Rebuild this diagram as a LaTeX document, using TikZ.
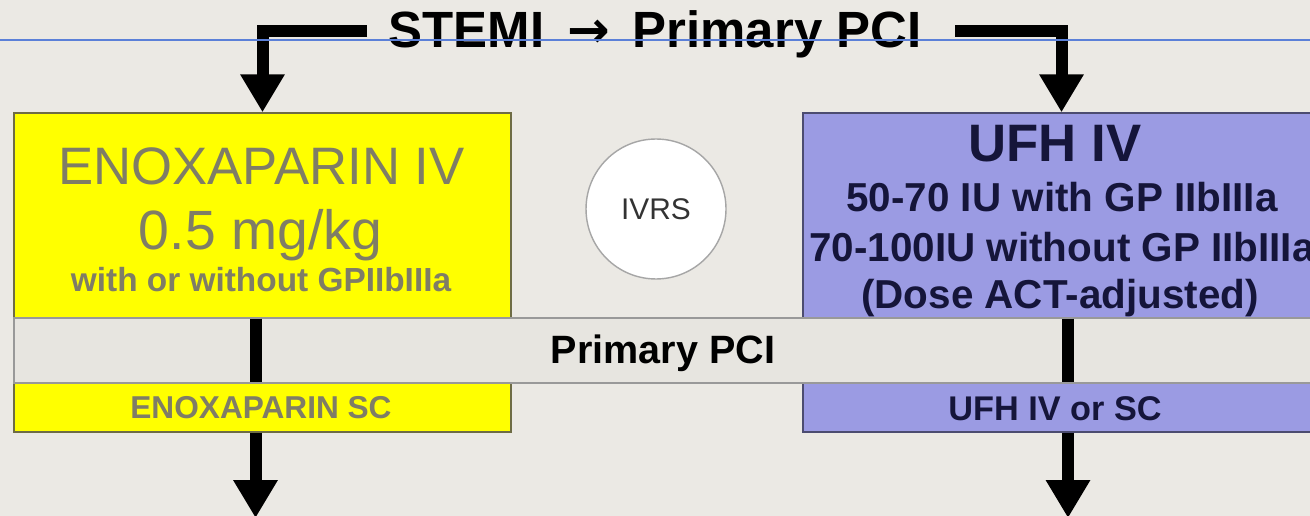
\documentclass[tikz,border=0pt]{standalone}
\usepackage{fontspec}
\setmainfont{Liberation Sans}
\newfontfamily\arrowfont{DejaVu Sans}
\usepackage{tikz}
\usetikzlibrary{arrows.meta}
\usetikzlibrary{positioning}

\definecolor{bgcol}{HTML}{EBE9E4}
\definecolor{bandcol}{HTML}{E7E5E0}
\definecolor{enoxyellow}{HTML}{FFFF00}
\definecolor{enoxborder}{HTML}{6E6C45}
\definecolor{enoxtext}{HTML}{7F7D66}
\definecolor{ufhblue}{HTML}{9B9BE3}
\definecolor{ufhborder}{HTML}{4C4C70}
\definecolor{ufhtext}{HTML}{15153A}
\definecolor{guideblue}{HTML}{5B80D8}

\begin{document}
\begin{tikzpicture}[x=0.02cm,y=-0.02cm,
    box/.style={draw,rectangle,line width=0.8pt,inner sep=0pt},
    lbl/.style={anchor=base,inner sep=0pt},
    fat/.style={line width=0.24cm},
    fatarrow/.style={fat,-{Triangle[width=0.84cm,length=0.76cm]}}]

  \useasboundingbox (0,0) rectangle (1310,516);
  \clip (0,0) rectangle (1310,516);
  \fill [bgcol] (0,0) rectangle (1310,516);

  \node [box,draw=enoxborder,fill=enoxyellow,minimum width=9.94cm,minimum height=4.1cm] (enoxiv) at (262.5,215.5) {};
  \node [box,draw=enoxborder,fill=enoxyellow,minimum width=9.94cm,minimum height=0.98cm] (enoxsc) at (262.5,407.5) {};
  \node [box,draw=ufhborder,fill=ufhblue,minimum width=10.34cm,minimum height=4.1cm] (ufhiv) at (1061.5,215.5) {};
  \node [box,draw=ufhborder,fill=ufhblue,minimum width=10.34cm,minimum height=0.98cm] (ufhsc) at (1061.5,407.5) {};
  \node [box,draw=gray!80,fill=bandcol,minimum width=26.12cm,minimum height=1.3cm] (band) at (667,350.5) {};

  \node [draw=gray!70,circle,fill=white,line width=0.8pt,minimum size=2.8cm,inner sep=0pt,
    font=\fontsize{17}{17}\selectfont,text=black!80] (ivrs) at (656,209) {IVRS};

  \node [lbl,font=\bfseries\fontsize{29}{29}\selectfont] (title) at (655,48)
    {STEMI\hspace{13pt}{\arrowfont →}\hspace{13pt}Primary PCI};

  \node [lbl,text=enoxtext,font=\fontsize{30}{30}\selectfont] (enoxivlbl) at (261.5,185) {ENOXAPARIN IV};
  \node [lbl,text=enoxtext,font=\fontsize{31.5}{31.5}\selectfont] (enoxdose) at (260.5,250) {0.5 mg/kg};
  \node [lbl,text=enoxtext,font=\bfseries\fontsize{19}{19}\selectfont] (enoxgp) at (261,292) {with or without GPIIbIIIa};
  \node [lbl,text=enoxtext,font=\bfseries\fontsize{18}{18}\selectfont] (enoxsclbl) at (261,418) {ENOXAPARIN SC};

  \node [lbl,text=ufhtext,font=\bfseries\fontsize{30}{30}\selectfont] (ufhivlbl) at (1055,162) {UFH IV};
  \node [lbl,text=ufhtext,font=\bfseries\fontsize{23}{23}\selectfont] (ufhwith) at (1062,212) {50-70 IU with GP IIbIIIa};
  \node [lbl,text=ufhtext,font=\bfseries\fontsize{23}{23}\selectfont] (ufhwithout) at (1062,262) {70-100IU without GP IIbIIIa};
  \node [lbl,text=ufhtext,font=\bfseries\fontsize{23}{23}\selectfont] (ufhact) at (1060,309) {(Dose ACT-adjusted)};
  \node [lbl,text=ufhtext,font=\bfseries\fontsize{19.5}{19.5}\selectfont] (ufhsclbl) at (1055,420) {UFH IV or SC};

  \node [lbl,font=\bfseries\fontsize{22.5}{22.5}\selectfont] (bandlbl) at (663,363) {Primary PCI};

  \coordinate (tl) at (367,31);
  \coordinate (tr) at (955,31);
  \coordinate (lend) at (255.5,518);
  \coordinate (rend) at (1068,518);

  \draw [fatarrow] (tl) -| (enoxiv.north);
  \draw [fatarrow] (tr) -| (ufhiv.north);

  \draw [fat] ([xshift=-0.14cm]enoxiv.south) -- ([xshift=-0.14cm]enoxsc.north);
  \draw [fat] ([xshift=0.13cm]ufhiv.south) -- ([xshift=0.13cm]ufhsc.north);

  \draw [fatarrow] (enoxsc.south -| lend) -- (lend);
  \draw [fatarrow] (ufhsc.south -| rend) -- (rend);

  \draw [guideblue,line width=0.6pt] (0,40) -- (1310,40);
\end{tikzpicture}
\end{document}
